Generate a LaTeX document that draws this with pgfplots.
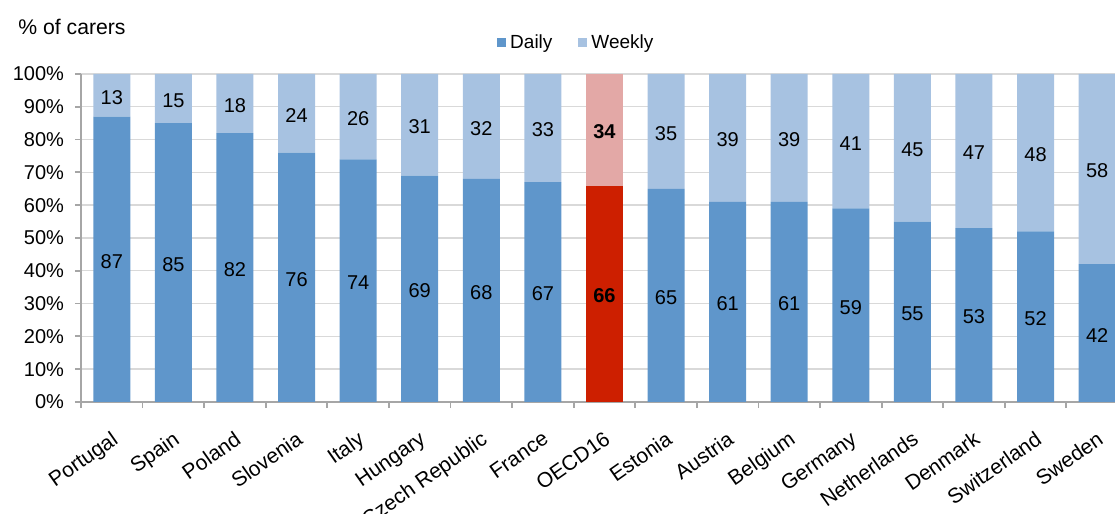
\documentclass[border=0pt]{standalone}
\usepackage{pgfplots}
\pgfplotsset{compat=1.18}
\usepackage{fontspec}
\setmainfont{Liberation Sans}
\definecolor{daily}{HTML}{5F96CB}
\definecolor{weekly}{HTML}{A7C2E1}
\definecolor{oecdd}{HTML}{CD1F00}
\definecolor{oecdw}{HTML}{E3A8A6}
\definecolor{gridc}{HTML}{D9D9D9}
\definecolor{axisc}{HTML}{A6A6A6}
\begin{document}
\fontsize{10}{12}\selectfont
\begin{tikzpicture}
\clip (-40.5pt,-56pt) rectangle (517pt,201pt);
\pgfplotsset{common/.style={
  width=517pt, height=164pt, scale only axis,
  xmin=-0.5, xmax=16.29, ymin=0, ymax=100,
  at={(0pt,0pt)}, anchor=south west,
  /pgf/number format/assume math mode=true,
  every axis/.append style={font=\fontsize{10}{12}\selectfont}
}}
\begin{axis}[common,
  ybar stacked, bar width=18.5pt,
  axis x line*=bottom, axis y line*=left,
  axis line style={axisc, line width=0.9pt},
  tick style={axisc, line width=0.9pt},
  tick align=outside, major tick length=3pt,
  ytick={0,10,...,100},
  yticklabel={\pgfmathprintnumber{\tick}\%},
  yticklabel style={font=\fontsize{10}{12}\selectfont, xshift=-2pt},
  ymajorgrids, grid style={gridc, line width=0.7pt},
  xtick={-0.5,0.5,...,16.5}, xticklabels={},
  extra x ticks={0,1,...,16},
  extra x tick labels={Portugal,Spain,Poland,Slovenia,Italy,Hungary,Czech Republic,France,OECD16,Estonia,Austria,Belgium,Germany,Netherlands,Denmark,Switzerland,Sweden},
  extra x tick style={major tick length=0pt, grid=none,
    xticklabel style={rotate=35, anchor=north east, inner sep=1pt, xshift=-7.5pt, yshift=-10pt, font=\fontsize{10.5}{12}\selectfont}},
  legend style={at={(0.48,1)}, anchor=center, yshift=15.5pt, draw=none, fill=none,
    font=\fontsize{9.5}{11}\selectfont, legend columns=2,
    /tikz/every even column/.append style={column sep=11pt},
    inner sep=0pt},
  legend image code/.code={\fill[#1] (0pt,-2.25pt) rectangle (4.5pt,2.25pt);},
]
\addplot[fill=daily, draw=none] coordinates {(0,87) (1,85) (2,82) (3,76) (4,74) (5,69) (6,68) (7,67) (8,0) (9,65) (10,61) (11,61) (12,59) (13,55) (14,53) (15,52) (16,42)};
\addlegendentry{Daily}
\addplot[fill=weekly, draw=none] coordinates {(0,13) (1,15) (2,18) (3,24) (4,26) (5,31) (6,32) (7,33) (8,0) (9,35) (10,39) (11,39) (12,41) (13,45) (14,47) (15,48) (16,58)};
\addlegendentry{Weekly}
\addplot[fill=oecdd, draw=none] coordinates {(0,0) (1,0) (2,0) (3,0) (4,0) (5,0) (6,0) (7,0) (8,66) (9,0) (10,0) (11,0) (12,0) (13,0) (14,0) (15,0) (16,0)};
\addplot[fill=oecdw, draw=none] coordinates {(0,0) (1,0) (2,0) (3,0) (4,0) (5,0) (6,0) (7,0) (8,34) (9,0) (10,0) (11,0) (12,0) (13,0) (14,0) (15,0) (16,0)};
\end{axis}
\begin{axis}[common, hide axis]
\addplot[only marks, mark=*, mark size=0pt, draw=none, fill=none,
  nodes near coords, point meta=explicit symbolic,
  nodes near coords style={anchor=center, yshift=-1pt, text=black, font=\fontsize{10}{12}\selectfont}]
coordinates {
(0,43.5)[87] (1,42.5)[85] (2,41)[82] (3,38)[76] (4,37)[74] (5,34.5)[69] (6,34)[68] (7,33.5)[67]
(9,32.5)[65] (10,30.5)[61] (11,30.5)[61] (12,29.5)[59] (13,27.5)[55] (14,26.5)[53] (15,26)[52] (16,21)[42]
(0,93.5)[13] (1,92.5)[15] (2,91)[18] (3,88)[24] (4,87)[26] (5,84.5)[31] (6,84)[32] (7,83.5)[33]
(9,82.5)[35] (10,80.5)[39] (11,80.5)[39] (12,79.5)[41] (13,77.5)[45] (14,76.5)[47] (15,76)[48] (16,71)[58]
};
\addplot[only marks, mark=*, mark size=0pt, draw=none, fill=none,
  nodes near coords, point meta=explicit symbolic,
  nodes near coords style={anchor=center, yshift=-1pt, text=black, font=\fontsize{10}{12}\selectfont\bfseries}]
coordinates {(8,33)[66] (8,83)[34]};
\end{axis}
\node[anchor=west, inner sep=0pt, font=\fontsize{10.6}{12}\selectfont] at (-31.5pt,187.5pt) {\% of carers};
\end{tikzpicture}
\end{document}
